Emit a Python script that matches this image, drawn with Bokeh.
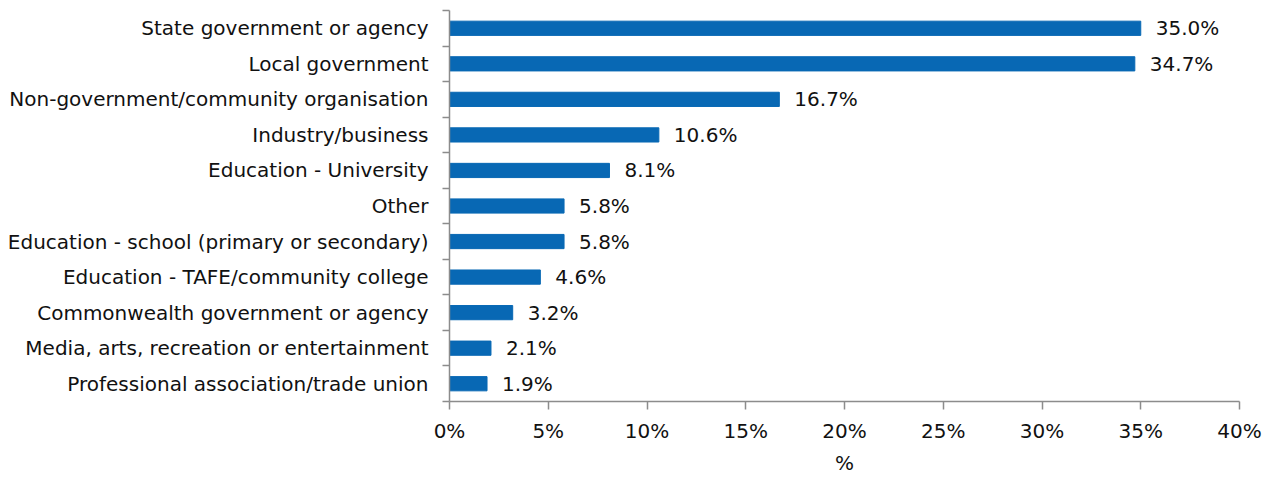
from bokeh.plotting import figure
from bokeh.models import FixedTicker, Range1d, ColumnDataSource
from bokeh.embed import file_html
from bokeh.resources import INLINE
from bokeh.core.properties import value

categories = [
    "State government or agency",
    "Local government",
    "Non-government/community organisation",
    "Industry/business",
    "Education - University",
    "Other",
    "Education - school (primary or secondary)",
    "Education - TAFE/community college",
    "Commonwealth government or agency",
    "Media, arts, recreation or entertainment",
    "Professional association/trade union",
]
values = [35.0, 34.7, 16.7, 10.6, 8.1, 5.8, 5.8, 4.6, 3.2, 2.1, 1.9]
x_ticks = [0, 5, 10, 15, 20, 25, 30, 35, 40]
x_tick_labels = [f"{t}%" for t in x_ticks]

n = len(categories)
ypos = [n - 0.5 - i for i in range(n)]
labels = [f"{v:.1f}%" for v in values]

FONT = "DejaVu Sans"
FS = "20px"
AXIS_COLOR = "#8c8c8c"
BAR_COLOR = "#0868b4"
TEXT_COLOR = "#111111"

src = ColumnDataSource(dict(y=ypos, v=values, lab=labels))

p = figure(width=1262, height=478, output_backend="svg", toolbar_location=None,
           x_range=Range1d(0, 40), y_range=Range1d(0, n),
           min_border_left=449, min_border_right=23, min_border_top=10, min_border_bottom=77)
p.outline_line_color = None
p.xgrid.visible = False
p.ygrid.visible = False

p.hbar(y="y", right="v", left=0, height=0.4, source=src, color=BAR_COLOR)
p.text(x="v", y="y", text="lab", source=src, x_offset=15, text_align="left",
       text_baseline="middle", text_font=value(FONT), text_font_size=FS, text_color=TEXT_COLOR)

# x axis
xa = p.xaxis[0]
xa.ticker = FixedTicker(ticks=x_ticks, minor_ticks=[])
xa.major_label_overrides = {t: l for t, l in zip(x_ticks, x_tick_labels)}
xa.axis_line_color = AXIS_COLOR
xa.axis_line_width = 1.5
xa.major_tick_line_color = AXIS_COLOR
xa.major_tick_line_width = 1.5
xa.major_tick_out = 8
xa.major_tick_in = 0
xa.minor_tick_line_color = None
xa.major_label_text_font = FONT
xa.major_label_text_font_size = FS
xa.major_label_text_color = TEXT_COLOR
xa.major_label_standoff = 9
xa.axis_label = "%"
xa.axis_label_text_font = FONT
xa.axis_label_text_font_size = FS
xa.axis_label_text_font_style = "normal"
xa.axis_label_text_color = TEXT_COLOR
xa.axis_label_standoff = 5

# y axis
ya = p.yaxis[0]
ya.ticker = FixedTicker(ticks=ypos, minor_ticks=list(range(0, n + 1)))
ya.major_label_overrides = {y: c for y, c in zip(ypos, categories)}
ya.axis_line_color = AXIS_COLOR
ya.axis_line_width = 1.5
ya.major_tick_line_color = None
ya.major_tick_out = 0
ya.major_tick_in = 0
ya.minor_tick_line_color = AXIS_COLOR
ya.minor_tick_line_width = 1.5
ya.minor_tick_out = 7
ya.minor_tick_in = 0
ya.major_label_text_font = FONT
ya.major_label_text_font_size = FS
ya.major_label_text_color = TEXT_COLOR
ya.major_label_standoff = 14

open("out.html", "w").write(file_html(p, INLINE))
